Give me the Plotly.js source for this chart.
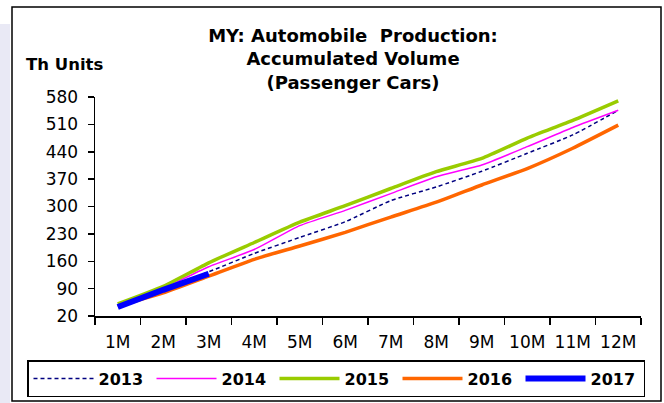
<!DOCTYPE html>
<html>
<head>
<meta charset="utf-8">
<script src="https://cdn.plot.ly/plotly-3.0.1.min.js"></script>
<style>
  html, body { margin: 0; padding: 0; background: #fff; }
  #chart { width: 664px; height: 403px; }
</style>
</head>
<body>
<div id="chart"></div>
<script>
// MY passenger car production, accumulated volume (thousand units)
var months = ['1M', '2M', '3M', '4M', '5M', '6M', '7M', '8M', '9M', '10M', '11M', '12M'];
var y2013 = [46, 88, 133, 180, 221, 261, 315, 350, 390, 436, 483, 546];
var y2014 = [48, 91, 146, 190, 251, 290, 333, 376, 406, 453, 502, 546];
var y2015 = [51, 96, 156, 208, 260, 302, 346, 389, 423, 475, 520, 570];
var y2016 = [45, 79, 122, 165, 199, 234, 273, 311, 355, 397, 449, 508];
var y2017 = [43, 87, 128];

var font = 'DejaVu Sans, Arial, sans-serif';

function series(name, y, color, width, dash) {
  return {
    x: months.slice(0, y.length),
    y: y,
    name: name,
    type: 'scatter',
    mode: 'lines',
    line: { color: color, width: width, dash: dash || 'solid', shape: 'spline', smoothing: 0.5 }
  };
}

var traces = [
  series('2013', y2013, '#000080', 1.5, '4px,3px'),
  series('2014', y2014, '#ff00ff', 1.5),
  series('2015', y2015, '#99cc00', 3.5),
  series('2016', y2016, '#ff6600', 3.5),
  series('2017', y2017, '#0000ff', 6)
];

// pixel -> paper helpers (plot area: x 95..641, y 97..316)
function px(v) { return (v - 95) / 546; }
function py(v) { return (316 - v) / 219; }

var layout = {
  width: 664,
  height: 403,
  margin: { l: 95, r: 23, t: 97, b: 87, autoexpand: false },
  paper_bgcolor: '#ffffff',
  plot_bgcolor: '#ffffff',
  showlegend: true,
  title: {
    text: '<b>MY: Automobile\u00a0 Production:<br>Accumulated Volume<br>(Passenger Cars)</b>',
    font: { family: font, size: 18, color: '#000' },
    x: px(353), xref: 'paper', xanchor: 'center',
    y: 1 - 42 / 403, yref: 'container', yanchor: 'top'
  },
  xaxis: {
    type: 'category',
    range: [-0.5, 11.5],
    tickson: 'boundaries',
    tickangle: 0,
    ticks: 'outside', ticklen: 7, tickwidth: 1.5, tickcolor: '#000',
    ticklabelstandoff: 10,
    showline: true, linecolor: '#000', linewidth: 1.5,
    showgrid: false, zeroline: false,
    tickfont: { family: font, size: 17, color: '#000' },
    fixedrange: true
  },
  yaxis: {
    range: [20, 580],
    tick0: 20, dtick: 70,
    ticks: 'outside', ticklen: 6, tickwidth: 1.5, tickcolor: '#000',
    ticklabelstandoff: 6,
    showline: true, linecolor: '#000', linewidth: 1.5,
    showgrid: false, zeroline: false,
    tickfont: { family: font, size: 17, color: '#000' },
    fixedrange: true
  },
  legend: {
    orientation: 'h',
    x: px(27), xanchor: 'left',
    y: py(360), yanchor: 'top',
    bordercolor: '#000', borderwidth: 1.5,
    bgcolor: '#fff',
    entrywidth: 48,
    itemwidth: 60,
    font: { family: font, size: 16, color: '#000', weight: 'bold' },
    traceorder: 'normal'
  },
  annotations: [{
    text: '<b>Th Units</b>',
    xref: 'paper', yref: 'paper',
    x: px(24), xanchor: 'left',
    y: py(64), yanchor: 'middle',
    showarrow: false,
    font: { family: font, size: 16.5, color: '#000' }
  }],
  shapes: [
    { type: 'rect', xref: 'paper', yref: 'paper', layer: 'below',
      x0: px(0), x1: px(10), y0: py(403), y1: py(24),
      fillcolor: '#e9e9f5', line: { width: 0 } },
    { type: 'rect', xref: 'paper', yref: 'paper', layer: 'above',
      x0: px(12), x1: px(661), y0: py(401), y1: py(7),
      line: { color: '#000', width: 1.5 } }
  ]
};

Plotly.newPlot('chart', traces, layout, { displayModeBar: false, staticPlot: true });
</script>
</body>
</html>
